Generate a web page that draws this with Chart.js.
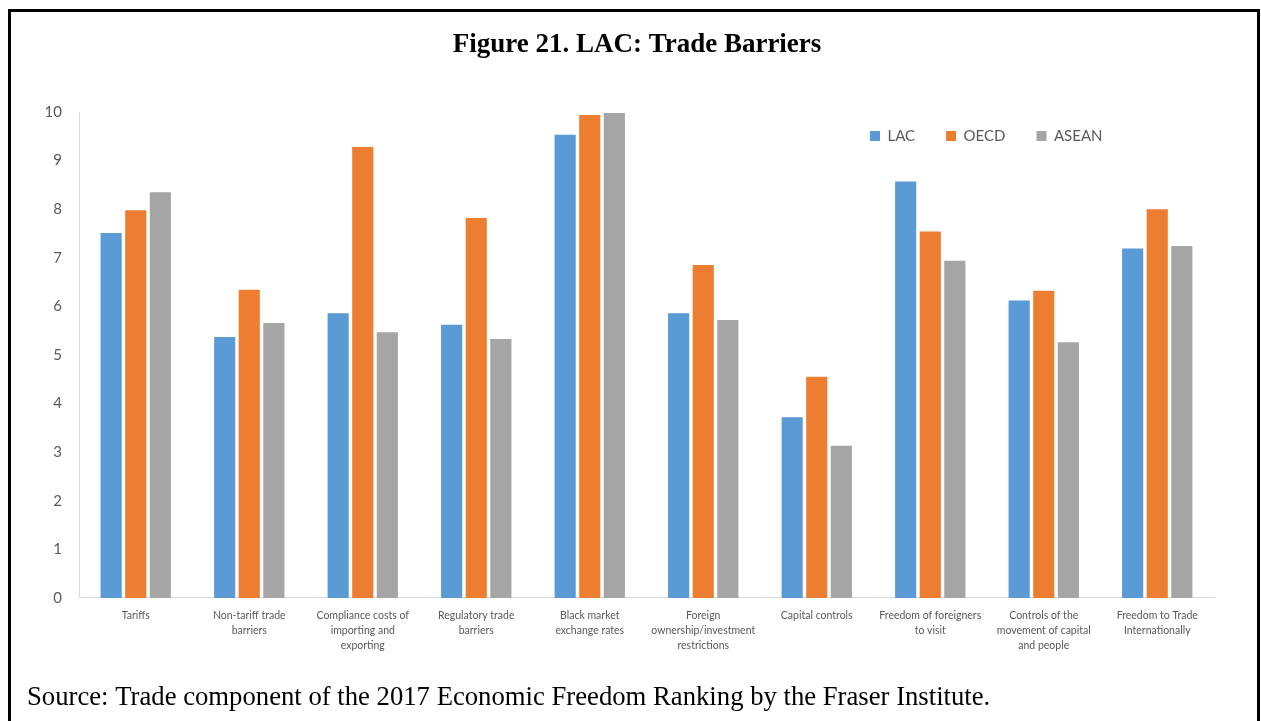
<!DOCTYPE html>
<html>
<head>
<meta charset="utf-8">
<script src="https://cdn.jsdelivr.net/npm/chart.js@4"></script>
<style>
  html, body { margin: 0; padding: 0; background: #fff; }
  #wrap { position: relative; width: 1261px; height: 721px; }
  #frame {
    position: absolute; left: 8px; top: 9px; width: 1246px; height: 720px;
    border-left: 3px solid #000; border-top: 3px solid #000; border-right: 3px solid #000;
    pointer-events: none;
  }
</style>
</head>
<body>
<div id="wrap">
  <canvas id="chart" width="1261" height="721"></canvas>
  <div id="frame"></div>
</div>
<script>
const categories = [
  ['Tariffs'],
  ['Non-tariff trade', 'barriers'],
  ['Compliance costs of', 'importing and', 'exporting'],
  ['Regulatory trade', 'barriers'],
  ['Black market', 'exchange rates'],
  ['Foreign', 'ownership/investment', 'restrictions'],
  ['Capital controls'],
  ['Freedom of foreigners', 'to visit'],
  ['Controls of the', 'movement of capital', 'and people'],
  ['Freedom to Trade', 'Internationally']
];
const lac   = [7.51, 5.37, 5.86, 5.62, 9.53, 5.86, 3.72, 8.57, 6.12, 7.19];
const oecd  = [7.98, 6.34, 9.28, 7.82, 9.94, 6.85, 4.55, 7.54, 6.32, 8.00];
const asean = [8.35, 5.66, 5.47, 5.33, 9.98, 5.72, 3.13, 6.94, 5.26, 7.24];

const titleText = 'Figure 21. LAC: Trade Barriers';
const sourceText = 'Source: Trade component of the 2017 Economic Freedom Ranking by the Fraser Institute.';

const grey = '#595959';
const sans = 'Lato, "Open Sans", sans-serif';
const serif = '"Liberation Serif", "Times New Roman", serif';

// legend sits inside the plot, top right (it gets ~no room in the layout)
const legendSpot = {
  id: 'legendSpot',
  afterLayout(chart) {
    const lg = chart.legend;
    const pad = lg.options.labels.padding;
    lg.left = 870 - pad;
    lg.right = chart.chartArea.right;
    lg.top = 128.5 - pad;
    lg.bottom = lg.top + 2 * pad + 20;
    lg.width = lg.right - lg.left;
    lg.height = lg.bottom - lg.top;
  }
};

new Chart(document.getElementById('chart'), {
  type: 'bar',
  data: {
    labels: categories,
    datasets: [
      { label: 'LAC', data: lac, backgroundColor: '#5B9BD5' },
      { label: 'OECD', data: oecd, backgroundColor: '#ED7D31' },
      { label: 'ASEAN', data: asean, backgroundColor: '#A5A5A5' }
    ]
  },
  options: {
    responsive: false,
    animation: false,
    datasets: {
      bar: { categoryPercentage: 0.65, barPercentage: 0.86 }
    },
    layout: { padding: { left: 27, right: 14, top: 0, bottom: 0 } },
    scales: {
      x: {
        grid: { display: false, drawTicks: false },
        border: { display: true, color: '#d9d9d9', width: 1 },
        ticks: {
          color: grey, font: { family: sans, size: 10.5, lineHeight: 1.43 },
          padding: 10, maxRotation: 0, autoSkip: false
        },
        afterFit(s) { s.height = 75; }
      },
      y: {
        min: 0, max: 10,
        grid: { display: false, drawTicks: false },
        border: { display: true, color: '#d9d9d9', width: 1 },
        ticks: { stepSize: 1, color: grey, font: { family: sans, size: 15 }, padding: 17 },
        afterFit(s) { s.width = 52; }
      },
      y2: {
        position: 'right',
        grid: { display: false, drawTicks: false },
        border: { display: false },
        ticks: { display: false },
        afterFit(s) { s.width = 33; }
      }
    },
    plugins: {
      legend: {
        position: 'top',
        align: 'start',
        maxHeight: 1,
        labels: {
          boxWidth: 10, boxHeight: 10, padding: 31,
          color: grey, font: { family: sans, size: 15 }
        }
      },
      title: {
        display: true, text: titleText, color: '#000',
        font: { family: serif, size: 27, weight: 'bold', lineHeight: 1.2 },
        padding: { top: 29, bottom: 49.6 }
      },
      subtitle: {
        display: true, text: sourceText, position: 'bottom', align: 'start', color: '#000',
        font: { family: serif, size: 26.7, weight: 'normal', lineHeight: 1.2 },
        padding: { top: 9, bottom: 7 }
      },
      tooltip: { enabled: false }
    }
  },
  plugins: [legendSpot]
});
</script>
</body>
</html>
